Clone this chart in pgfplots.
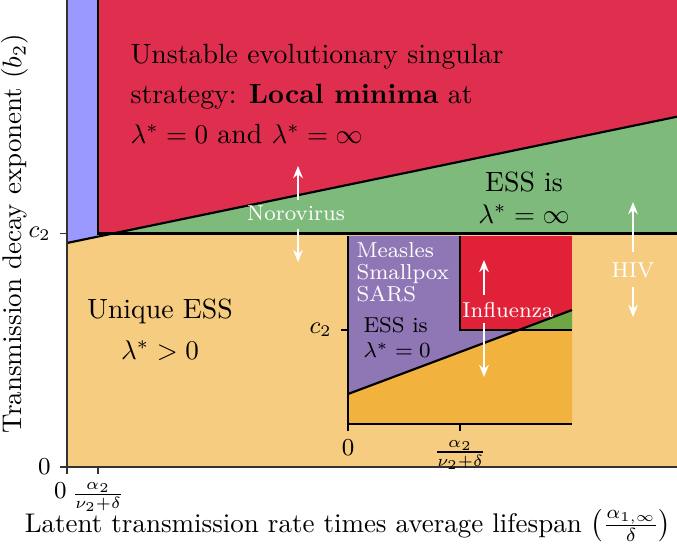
\documentclass[border=0pt]{standalone}
\usepackage{pgfplots}
\pgfplotsset{compat=1.18}
\usetikzlibrary{arrows.meta}
\definecolor{mred}{RGB}{224,47,78}
\definecolor{mblue}{RGB}{153,153,255}
\definecolor{mgreen}{RGB}{125,186,123}
\definecolor{morange}{RGB}{246,204,128}
\definecolor{ipurple}{RGB}{143,118,181}
\definecolor{ired}{RGB}{225,33,55}
\definecolor{igreen}{RGB}{110,166,70}
\definecolor{iorange}{RGB}{242,179,62}
\begin{document}
\begin{tikzpicture}
\tikzset{warr/.style={white, line width=0.8pt, -{Stealth[length=4.5pt,width=3.6pt]}}}
\begin{axis}[
  at={(0pt,0pt)}, anchor=south west,
  x=0.37037pt, y=0.37037pt,
  xmin=0, xmax=610, ymin=0, ymax=467,
  axis lines*=left,
  axis line style={line width=0.7pt, black!80},
  axis on top, clip=false, no markers,
  xtick={31}, xticklabels={$\frac{\alpha_2}{\nu_2+\delta}$},
  extra x ticks={0}, extra x tick labels={$0$},
  extra x tick style={xticklabel style={xshift=-2.5pt}},
  ytick={0,233.5}, yticklabels={$0$,$c_2$},
  tick align=outside, major tick length=2.5pt,
  every tick/.style={black!80, line width=0.6pt},
  ticklabel style={font=\small},
  xticklabel style={inner sep=0.5pt, yshift=-2.6pt},
]
% regions
\addplot[fill=morange, draw=none] coordinates {(0,0) (610,0) (610,233.5) (46,233.5) (0,224)} -- cycle;
\addplot[fill=mblue, draw=none] coordinates {(0,224) (31,230.4) (31,467) (0,467)} -- cycle;
\addplot[fill=mred, draw=none] coordinates {(31,233.5) (46,233.5) (610,350.3) (610,467) (31,467)} -- cycle;
\addplot[fill=mgreen, draw=none] coordinates {(46,233.5) (610,350.3) (610,233.5)} -- cycle;
% boundaries
\addplot[black, line width=0.8pt] coordinates {(0,224) (610,350.3)};
\addplot[black, line width=0.8pt] coordinates {(31,467) (31,233.5) (610,233.5)};
% texts
\node[anchor=north west, inner sep=0pt, align=left, font=\fontsize{10.3}{14.8}\selectfont] at (63,423)
  {Unstable evolutionary singular\\ strategy: \textbf{Local minima} at\\ $\lambda^*=0$ and $\lambda^*=\infty$};
\node[anchor=north, inner sep=0pt, align=center, font=\fontsize{10.3}{12}\selectfont] at (457,296)
  {ESS is\\ $\lambda^*=\infty$};
\node[anchor=north, inner sep=0pt, align=center, font=\fontsize{10.3}{15.2}\selectfont] at (93,169)
  {Unique ESS\\ $\lambda^*>0$};
\node[white, font=\footnotesize, inner sep=0pt] at (229,254) {Norovirus};
\draw[warr] (231,267) -- (231,301);
\draw[warr] (231,238) -- (231,205);
\node[white, font=\footnotesize, inner sep=0pt] at (566,197) {HIV};
\draw[warr] (566,215) -- (566,265);
\draw[warr] (566,180) -- (566,150);
% labels
\node[rotate=90, anchor=base, inner sep=0pt] at (-45.5,233.5) {Transmission decay exponent ($b_2$)};
\node[anchor=base, inner sep=0pt] at (281,-65) {Latent transmission rate times average lifespan $\left(\frac{\alpha_{1,\infty}}{\delta}\right)$};
\end{axis}
\begin{axis}[
  at={(104.07pt,15.926pt)}, anchor=south west,
  x=0.37037pt, y=0.37037pt,
  xmin=0, xmax=224, ymin=0, ymax=188,
  axis lines*=left,
  axis line style={line width=0.6pt, black},
  axis on top, clip=false, no markers,
  xtick={0,112}, xticklabels={$0$,$\frac{\alpha_2}{\nu_2+\delta}$},
  ytick={94}, yticklabels={$c_2$},
  tick align=outside, major tick length=2.5pt,
  every tick/.style={black, line width=0.6pt},
  ticklabel style={font=\small},
]
\addplot[fill=iorange, draw=none] coordinates {(0,0) (224,0) (224,94) (170.7,94) (0,30)} -- cycle;
\addplot[fill=ipurple, draw=none] coordinates {(0,30) (170.7,94) (112,94) (112,188) (0,188)} -- cycle;
\addplot[fill=ired, draw=none] coordinates {(112,94) (224,94) (224,188) (112,188)} -- cycle;
\addplot[fill=igreen, draw=none] coordinates {(170.7,94) (224,114) (224,94)} -- cycle;
\addplot[black, line width=0.8pt] coordinates {(0,30) (224,114)};
\addplot[black, line width=0.8pt] coordinates {(112,188) (112,94) (224,94)};
\node[anchor=north west, inner sep=0pt, align=left, white, font=\fontsize{8}{8.2}\selectfont] at (8,182)
  {Measles\\ Smallpox\\ SARS};
\node[anchor=north west, inner sep=0pt, align=left, font=\fontsize{8}{9.3}\selectfont] at (15,107)
  {ESS is\\ $\lambda^*=0$};
\node[white, font=\footnotesize, inner sep=0pt] at (160,114) {Influenza};
\draw[warr] (136,129) -- (136,164);
\draw[warr] (136,101) -- (136,47);
\end{axis}
\pgfresetboundingbox
\path[use as bounding box] (-24.815pt,-28.148pt) rectangle (225.926pt,172.963pt);
\end{tikzpicture}
\end{document}
